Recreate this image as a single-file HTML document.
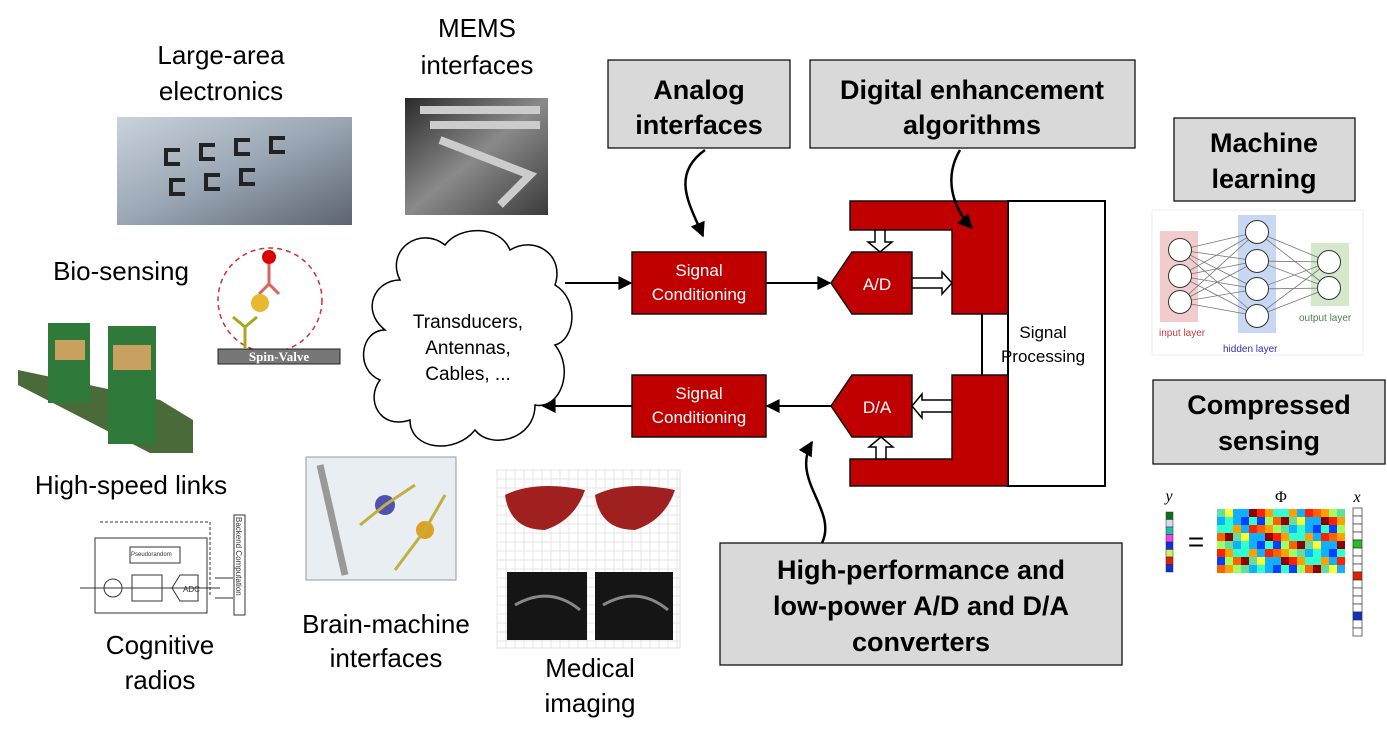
<!DOCTYPE html>
<html><head><meta charset="utf-8"><style>
html,body{margin:0;padding:0;background:#fff;}
svg{display:block;font-family:"Liberation Sans",Arial,sans-serif;}
</style></head><body>
<svg id="s" width="1387" height="739" viewBox="0 0 1387 739" xmlns="http://www.w3.org/2000/svg">
<defs>
<marker id="ah" viewBox="0 0 10 10" refX="9" refY="5" markerWidth="16" markerHeight="14" orient="auto" markerUnits="userSpaceOnUse"><path d="M0,0 L10,5 L0,10 z" fill="#000"/></marker>
<marker id="ah2" viewBox="0 0 10 10" refX="9" refY="5" markerWidth="15" markerHeight="15" orient="auto" markerUnits="userSpaceOnUse"><path d="M0,0 L10,5 L0,10 z" fill="#000"/></marker>
<linearGradient id="g1" x1="0" y1="0" x2="1" y2="1"><stop offset="0" stop-color="#c9d2dc"/><stop offset="0.5" stop-color="#9aa6b4"/><stop offset="1" stop-color="#5c6470"/></linearGradient>
<linearGradient id="g2" x1="0" y1="0" x2="1" y2="1"><stop offset="0" stop-color="#2a2a2a"/><stop offset="0.5" stop-color="#8a8a8a"/><stop offset="1" stop-color="#3a3a3a"/></linearGradient>
</defs>

<g font-size="26" text-anchor="middle" fill="#000">
<text x="221" y="64">Large-area</text>
<text x="221" y="100">electronics</text>
<text x="477" y="37">MEMS</text>
<text x="477" y="74">interfaces</text>
<text x="121" y="280">Bio-sensing</text>
<text x="131" y="494">High-speed links</text>
<text x="160" y="654">Cognitive</text>
<text x="160" y="689">radios</text>
<text x="386" y="633">Brain-machine</text>
<text x="386" y="667">interfaces</text>
<text x="590" y="677">Medical</text>
<text x="590" y="712">imaging</text>
</g>

<rect x="117" y="117" width="235" height="108" fill="url(#g1)"/>
<g fill="none" stroke="#222" stroke-width="4"><path d="M180,150 h-14 v14 h14"/><path d="M215,145 h-14 v14 h14"/><path d="M250,140 h-14 v14 h14"/><path d="M285,138 h-14 v14 h14"/><path d="M185,180 h-14 v14 h14"/><path d="M220,175 h-14 v14 h14"/><path d="M255,170 h-14 v14 h14"/></g>
<rect x="405" y="98" width="143" height="117" fill="url(#g2)"/>
<path d="M420,110 L540,110 M430,125 L540,125 M440,140 L530,175 L500,205" stroke="#ccc" stroke-width="8" fill="none"/>

<circle cx="270" cy="300" r="52" fill="none" stroke="#d03030" stroke-width="1.5" stroke-dasharray="5,4"/>
<rect x="218" y="349" width="122" height="15" fill="#777" stroke="#222"/>
<text x="279" y="361" font-family="Liberation Serif,serif" font-weight="bold" font-size="13" fill="#fff" text-anchor="middle">Spin-Valve</text>
<circle cx="269" cy="257" r="7" fill="#d00"/>
<path d="M269,264 v20 l-10,10 M269,284 l10,10" stroke="#e06060" stroke-width="3" fill="none"/>
<circle cx="260" cy="303" r="9" fill="#e8b830"/>
<path d="M245,349 v-22 l-12,-10 M245,327 l12,-10" stroke="#a8a820" stroke-width="3" fill="none"/>

<path d="M18,370 L160,400 L193,420 L193,453 L150,453 L18,385 z" fill="#4a6a3a"/>
<rect x="48" y="323" width="42" height="80" fill="#2f7a3a"/>
<rect x="108" y="326" width="48" height="118" fill="#2f7a3a"/>
<g fill="#c8a060"><rect x="55" y="340" width="30" height="20"/><rect x="113" y="345" width="38" height="25"/></g>

<g fill="none" stroke="#333" stroke-width="1">
<path d="M100,522 h110 v75" stroke-dasharray="3,2"/>
<rect x="95" y="538" width="112" height="75"/>
<rect x="130" y="547" width="50" height="16"/>
<circle cx="113" cy="588" r="9"/>
<rect x="132" y="575" width="30" height="26"/>
<path d="M172,588 l8,-13 h18 v26 h-18 z"/>
<path d="M80,588 h140 M215,578 h18 M215,598 h18"/>
<rect x="234" y="515" width="11" height="100"/>
</g>
<text x="131" y="556" font-size="6" fill="#333">Pseudorandom</text>
<text x="183" y="592" font-size="8" fill="#333">ADC</text>
<text transform="translate(236,517) rotate(90)" font-size="8" fill="#333">Backend Computation</text>

<rect x="306" y="457" width="150" height="123" fill="#e8eef2" stroke="#999"/>
<path d="M320,465 L345,575" stroke="#999" stroke-width="7"/>
<circle cx="385" cy="505" r="10" fill="#5050b0"/>
<circle cx="425" cy="530" r="9" fill="#e0a020"/>
<path d="M385,505 l30,-20 M385,505 l-25,20 M425,530 l20,-35 M425,530 l-30,40" stroke="#c0b040" stroke-width="3"/>

<rect x="497" y="470" width="183" height="178" fill="#fff" stroke="#ddd"/>
<g stroke="#e4e4e4" stroke-width="1" id="grid"></g>
<path d="M505,495 q30,-15 80,-5 q-10,30 -40,40 q-35,0 -40,-35z" fill="#a02020"/>
<path d="M595,495 q30,-15 80,-5 q-10,30 -40,40 q-35,0 -40,-35z" fill="#a02020"/>
<rect x="507" y="572" width="80" height="68" fill="#151515"/>
<rect x="595" y="572" width="78" height="68" fill="#151515"/>
<path d="M515,605 q35,-20 65,5 M603,605 q35,-20 65,5" stroke="#888" stroke-width="3" fill="none"/>

<g fill="#d9d9d9" stroke="#000" stroke-width="1.2">
<rect x="608" y="60" width="182" height="88"/>
<rect x="810" y="60" width="325" height="88"/>
<rect x="1174" y="118" width="181" height="83"/>
<rect x="1153" y="380" width="232" height="84"/>
<rect x="720" y="543" width="402" height="122"/>
</g>
<g font-size="27" font-weight="bold" text-anchor="middle" fill="#000">
<text x="699" y="99">Analog</text><text x="699" y="134">interfaces</text>
<text x="972" y="99">Digital enhancement</text><text x="972" y="134">algorithms</text>
<text x="1264" y="152">Machine</text><text x="1264" y="188">learning</text>
<text x="1269" y="414">Compressed</text><text x="1269" y="450">sensing</text>
<text x="921" y="579">High-performance and</text><text x="921" y="615">low-power A/D and D/A</text><text x="921" y="651">converters</text>
</g>

<path d="M400,280 C385,250 420,225 445,245 C460,225 500,225 510,250 C535,235 565,255 555,285 C580,300 575,340 555,345 C575,370 560,410 535,405 C535,440 490,450 475,430 C455,455 410,450 410,420 C380,430 365,400 380,380 C355,370 360,330 385,330 C360,310 375,280 400,280 z" fill="#fff" stroke="#000" stroke-width="1.5"/>
<g font-size="19" text-anchor="middle"><text x="468" y="328">Transducers,</text><text x="468" y="354">Antennas,</text><text x="468" y="380">Cables, ...</text></g>

<rect x="1008" y="201" width="97" height="285" fill="#fff" stroke="#000" stroke-width="2"/>
<line x1="982" y1="314" x2="982" y2="375" stroke="#000" stroke-width="2"/>
<g fill="#c00000" stroke="#111" stroke-width="1.5">
<path d="M850,201 H1008 V314 H952 V230 H850 z"/>
<path d="M952,375 H1008 V486 H850 V459 H952 z"/>
<rect x="632" y="252" width="134" height="62"/>
<rect x="632" y="375" width="134" height="62"/>
<path d="M852,252 H912 V314 H852 L831,283 z"/>
<path d="M852,375 H912 V437 H852 L831,406 z"/>
</g>
<g fill="#fff" font-size="17" text-anchor="middle">
<text x="699" y="276">Signal</text><text x="699" y="300">Conditioning</text>
<text x="699" y="399">Signal</text><text x="699" y="423">Conditioning</text>
<text x="877" y="290">A/D</text><text x="877" y="413">D/A</text>
</g>
<g font-size="17" text-anchor="middle"><text x="1043" y="338">Signal</text><text x="1043" y="362">Processing</text></g>

<g fill="#fff" stroke="#000" stroke-width="1.5">
<path d="M875,230 h10 v12 h7 l-12,10 l-12,-10 h7 z"/>
<path d="M912,278 h30 v-6 l10,11 l-10,11 v-6 h-30 z"/>
<path d="M952,400 h-30 v-6 l-10,12 l10,12 v-6 h30 z"/>
<path d="M876,459 v-12 h-7 l12,-10 l12,10 h-7 v12 z"/>
</g>

<g stroke="#000" stroke-width="2" fill="none">
<line x1="565" y1="283" x2="631" y2="283" marker-end="url(#ah)"/>
<line x1="766" y1="283" x2="830" y2="283" marker-end="url(#ah)"/>
<line x1="831" y1="406" x2="767" y2="406" marker-end="url(#ah)"/>
<line x1="632" y1="406" x2="543" y2="406" marker-end="url(#ah)"/>
</g>

<g fill="none" stroke="#000" stroke-width="2.5">
<path d="M705,150 C670,175 690,205 703,236" marker-end="url(#ah2)"/>
<path d="M960,150 C945,175 950,205 972,228" marker-end="url(#ah2)"/>
<path d="M822,543 C838,510 790,480 812,442" marker-end="url(#ah2)"/>
</g>

<rect x="1152" y="210" width="211" height="145" fill="#fff" stroke="#eee"/>
<rect x="1160" y="231" width="38" height="91" fill="#f2cccc"/>
<rect x="1238" y="215" width="38" height="118" fill="#c8d8f2"/>
<rect x="1311" y="243" width="38" height="63" fill="#d4e8cc"/>
<g id="nn" stroke="#777" stroke-width="0.8"></g>
<text x="1159" y="336" font-size="10" fill="#c04040">input layer</text>
<text x="1223" y="352" font-size="10" fill="#3030b0">hidden layer</text>
<text x="1299" y="321" font-size="10" fill="#508050">output layer</text>

<text x="1169" y="501" font-size="16" font-style="italic" font-family="Liberation Serif,serif" text-anchor="middle">y</text>
<text x="1281" y="502" font-size="16" font-family="Liberation Serif,serif" text-anchor="middle">Φ</text>
<text x="1357" y="502" font-size="16" font-style="italic" font-family="Liberation Serif,serif" text-anchor="middle">x</text>
<text x="1196" y="551" font-size="28" text-anchor="middle">=</text>
<g id="cs"></g>
</svg>
<script>
var N="http://www.w3.org/2000/svg";
function el(p,t,a){var e=document.createElementNS(N,t);for(var k in a)e.setAttribute(k,a[k]);p.appendChild(e);return e;}
var nn=document.getElementById('nn');
var L=[[[1180,250],[1180,276],[1180,302]],[[1257,232],[1257,261],[1257,289],[1257,316]],[[1329,262],[1329,288]]];
for(var l=0;l<2;l++)for(var a=0;a<L[l].length;a++)for(var b=0;b<L[l+1].length;b++)el(nn,'line',{x1:L[l][a][0],y1:L[l][a][1],x2:L[l+1][b][0],y2:L[l+1][b][1]});
for(l=0;l<3;l++)for(a=0;a<L[l].length;a++)el(nn,'circle',{cx:L[l][a][0],cy:L[l][a][1],r:11.5,fill:'#fff',stroke:'#333','stroke-width':1});
var cs=document.getElementById('cs');
var C=['#ff2000','#ffa000','#ffff30','#a0ff60','#30ffd0','#10b0ff','#0040ff','#900000','#60e0a0','#ff6000'];
var s=7;for(var r=0;r<8;r++)for(var c=0;c<16;c++){s=(s*37+11)%101;el(cs,'rect',{x:1217+c*8,y:509+r*8,width:8,height:8,fill:C[s%10]});}
var Y=['#107010','#d8d8f0','#20c0a0','#f040f0','#1030e0','#d0f060','#e02000','#1030d0'];
for(r=0;r<8;r++)el(cs,'rect',{x:1166,y:512+r*7.5,width:7,height:7.5,fill:Y[r],stroke:'#333','stroke-width':0.5});
for(r=0;r<16;r++){var f='#fff';if(r==4)f='#20c020';if(r==8)f='#e02000';if(r==13)f='#1030c0';el(cs,'rect',{x:1353,y:508+r*8,width:9,height:8,fill:f,stroke:'#333','stroke-width':0.7});}
var g=document.getElementById('grid');
for(var x=497;x<=680;x+=9)el(g,'line',{x1:x,y1:470,x2:x,y2:648});
for(var y=470;y<=648;y+=9)el(g,'line',{x1:497,y1:y,x2:680,y2:y});
</script>
</body></html>
